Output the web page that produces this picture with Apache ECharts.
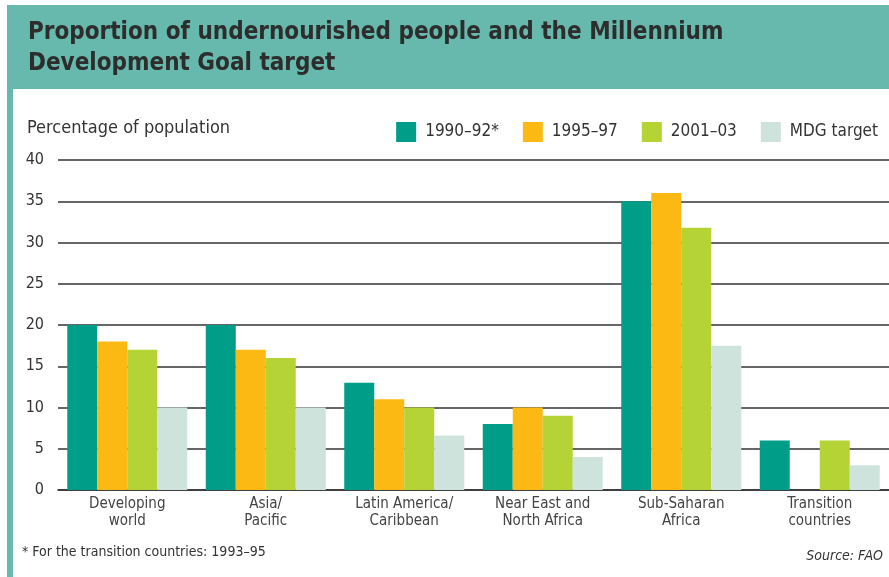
<!DOCTYPE html>
<html>
<head>
<meta charset="utf-8">
<script src="https://cdn.jsdelivr.net/npm/echarts@6/dist/echarts.min.js"></script>
<style>
  html, body { margin: 0; padding: 0; background: #fff; }
  #chart { width: 889px; height: 577px; }
</style>
</head>
<body>
<div id="chart"></div>
<script>
// regions on the x axis
var categories = ['Developing\nworld', 'Asia/\nPacific', 'Latin America/\nCaribbean',
  'Near East and\nNorth Africa', 'Sub-Saharan\nAfrica', 'Transition\ncountries'];
var seriesNames = ['1990–92*', '1995–97', '2001–03', 'MDG target'];
// percentage of population undernourished
var v1990 = [20, 20, 13, 8, 35, 6];
var v1995 = [18, 17, 11, 10, 36, null];
var v2001 = [17, 16, 10, 9, 31.8, 6];
var vMdg = [10, 10, 6.6, 4, 17.5, 3];
var yTicks = { min: 0, max: 40, step: 5 };

var colors = ['#009e89', '#fdb913', '#b5d334', '#cfe3dd'];
var font = '"DejaVu Sans Condensed", sans-serif';

var myChart = echarts.init(document.getElementById('chart'));

var allValues = [v1990, v1995, v2001, vMdg];
var series = allValues.map(function (vals, i) {
  return {
    name: seriesNames[i],
    type: 'bar',
    data: vals,
    barWidth: 30,
    barGap: '0%',
    itemStyle: { color: colors[i] },
    emphasis: { disabled: true }
  };
});

myChart.setOption({
  animation: false,
  graphic: [
    // banner and left strip
    { type: 'rect', left: 7, top: 5, shape: { width: 882, height: 84 }, style: { fill: '#66b9ac' }, z: -10 },
    { type: 'rect', left: 7, top: 5, shape: { width: 6, height: 572 }, style: { fill: '#66b9ac' }, z: -10 },
    {
      type: 'text', left: 28, top: 17,
      style: {
        text: 'Proportion of undernourished people and the Millennium\nDevelopment Goal target',
        font: 'bold 24px ' + font, fill: '#2d2d2d', lineHeight: 31
      }
    },
    {
      type: 'text', left: 27, top: 119,
      style: { text: 'Percentage of population', font: '18px ' + font, fill: '#333' }
    },
    {
      type: 'text', left: 22, top: 545,
      style: { text: '* For the transition countries: 1993–95', font: '14px ' + font, fill: '#333' }
    },
    {
      type: 'text', right: 6, top: 549,
      style: { text: 'Source: FAO', font: 'italic 14px ' + font, fill: '#333' }
    }
  ],
  legend: {
    data: seriesNames,
    right: 6,
    top: 117,
    icon: 'rect',
    itemWidth: 20,
    itemHeight: 20,
    itemGap: 24,
    textStyle: { fontFamily: font, fontSize: 17, color: '#333', padding: [0, 0, 0, 4] }
  },
  grid: {
    left: 58,
    right: -4,
    top: 160,
    bottom: 87,
    containLabel: false
  },
  xAxis: {
    type: 'category',
    data: categories,
    axisLine: { lineStyle: { color: '#333', width: 1.5 } },
    axisTick: { show: false },
    axisLabel: {
      fontFamily: font, fontSize: 15, color: '#444', lineHeight: 17, margin: 6
    }
  },
  yAxis: {
    type: 'value',
    min: yTicks.min,
    max: yTicks.max,
    interval: yTicks.step,
    axisLine: { show: false },
    axisTick: { show: false },
    axisLabel: { fontFamily: font, fontSize: 16, color: '#333', margin: 14 },
    splitLine: { lineStyle: { color: '#333', width: 1.5 } }
  },
  series: series
});
</script>
</body>
</html>
